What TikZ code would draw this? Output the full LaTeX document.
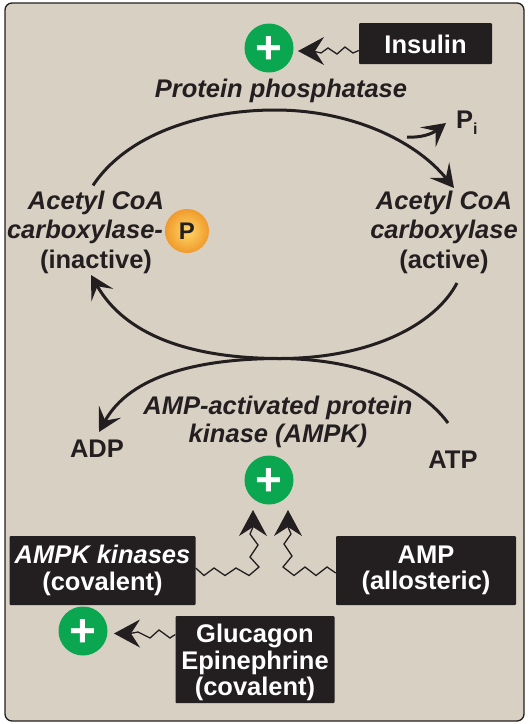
\documentclass[tikz,border=0pt]{standalone}
\usepackage{fontspec}
\setmainfont{Liberation Sans}
\usetikzlibrary{arrows.meta}
\definecolor{bgtan}{HTML}{D9D0C4}
\definecolor{inkdark}{HTML}{231F20}
\definecolor{plusgreen}{HTML}{0BA650}
\definecolor{phosin}{HTML}{FFD766}
\definecolor{phosout}{HTML}{F09A2C}
\tikzset{
  x=1pt,y=-1pt,
  panel/.style={draw=inkdark,line width=1.3pt,fill=bgtan,rounded corners=7pt},
  blackbox/.style={fill=inkdark,text=white,inner sep=0pt,rounded corners=1pt,align=center,font=\fontsize{25.5}{26.5}\selectfont\bfseries},
  lbl/.style={text=inkdark,inner sep=0pt,align=center,font=\fontsize{25.5}{29.5}\selectfont\bfseries},
  ilbl/.style={lbl,font=\fontsize{25.5}{29.5}\selectfont\bfseries\itshape},
  plussign/.style={circle,fill=plusgreen,minimum size=49pt,inner sep=0pt,text=white,font=\fontsize{46}{46}\selectfont\bfseries},
  phos/.style={circle,minimum size=44pt,inner sep=0pt,text=inkdark,font=\fontsize{24}{24}\selectfont\bfseries,inner color=phosin,outer color=phosout},
  zig/.style={draw=inkdark,line width=1.3pt,-{Stealth[length=26pt,width=28pt,inset=9pt]}},
  flow/.style={draw=inkdark,line width=3pt,-{Stealth[length=23pt,width=25pt,inset=10pt]}},
}
\newcommand{\plusmark}{\raisebox{-.33em}[0pt][0pt]{+}}
\begin{document}
\begin{tikzpicture}
\useasboundingbox (0,0) rectangle (529,724);
\path[panel] (5,3) rectangle (524,721);
% boxes
\node[blackbox,minimum width=133pt,minimum height=41pt] (insulin) at (425.5,43.5) {\rule{0pt}{20pt}Insulin};
\node[blackbox,minimum width=186pt,minimum height=69pt] (kin) at (102.5,570.5) {\textit{AMPK kinases}\\(covalent)};
\node[blackbox,minimum width=180pt,minimum height=69pt] (amp) at (426,570.5) {AMP\\(allosteric)};
\node[blackbox,minimum width=159pt,minimum height=87pt] (gluc) at (255,659.5) {\rule{0pt}{25pt}Glucagon\\Epinephrine\\(covalent)};
% plus
\node[plussign] (p1) at (269,48) {\plusmark};
\node[plussign] (p2) at (269,480) {\plusmark};
\node[plussign] (p3) at (83,631) {\plusmark};
% labels
\node[ilbl] (pp) at (281,91) {Protein phosphatase};
\node[ilbl] (inact) at (96,232) {Acetyl CoA\\\hspace*{-22pt}carboxylase-\\\textup{(inactive)}};
\node[ilbl] (act) at (444,232) {Acetyl CoA\\carboxylase\\\textup{(active)}};
\node[phos] (pc) at (187,231) {P};
\node[ilbl,font=\fontsize{25.5}{28.5}\selectfont\bfseries\itshape] (ampk) at (278,422) {AMP-activated protein\\kinase (AMPK)};
\node[lbl] (adp) at (97,449) {ADP};
\node[lbl] (atp) at (453,460) {ATP};
\node[lbl,anchor=west] (pi) at (456,123) {P\raisebox{-.25em}{\fontsize{16}{16}\selectfont i}};
% free ends
\coordinate (t1) at (298,51);
\coordinate (t2) at (253,510);
\coordinate (t3) at (288,510);
\coordinate (t4) at (114,633.5);
\coordinate (meet) at (280,358.5);
% zigzags
\path[zig] ([yshift=-7pt]insulin.west) -- (353,53) -- (345,47) -- (337,54) -- (328,48) -- (321,53) -- (313,51) -- (t1);
\path[zig] ([yshift=2.5pt]kin.east) -- (204,575.5) -- (214,568) -- (225,575.5) -- (236,568) -- (249,575.5) -- (259,567) -- (250,557) -- (258,545) -- (250,534) -- (253,527) -- (t2);
\path[zig] ([yshift=-2.5pt]amp.west) -- (327,567) -- (316,575.5) -- (305,567) -- (294,575.5) -- (283,567) -- (292,556) -- (284,544) -- (291,534) -- (288,527) -- (t3);
\path[zig] ([yshift=25pt]gluc.west) -- (170,638) -- (159,630) -- (150,638) -- (138,632) -- (130,633.5) -- (t4);
% main cycle
\path[flow] ([shift={(-3,-5)}]inact.north) .. controls (130,130) and (210,110) .. (275,110) .. controls (350,110) and (415,140) .. (454,188);
\path[flow] (407,137) .. controls (420,138) and (432,134) .. (446,123);
\path[flow] (457,283) .. controls (435,325) and (370,358.5) .. (meet) .. controls (190,358.5) and (125,335) .. (91,275);
\path[flow] (448,423) .. controls (420,385) and (360,359) .. (meet) .. controls (200,358.5) and (130,375) .. (99,432);
\end{tikzpicture}
\end{document}
